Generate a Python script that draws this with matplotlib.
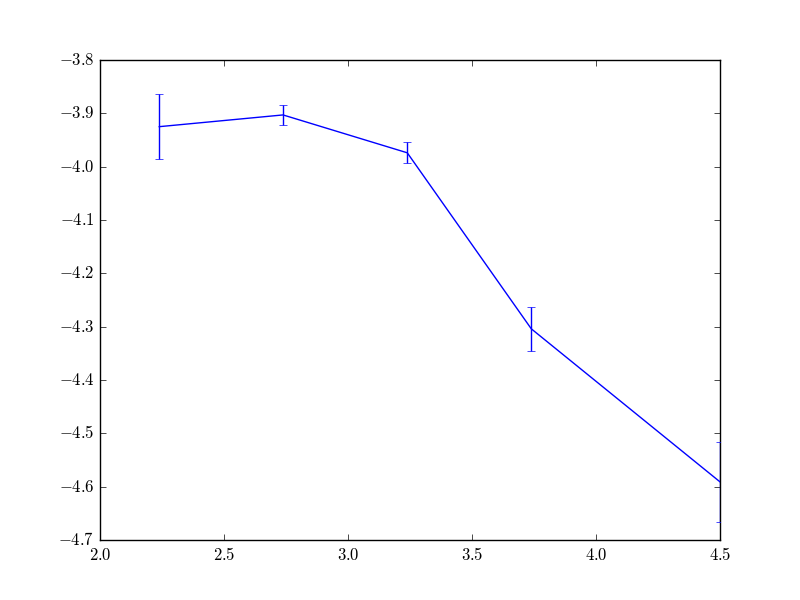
import matplotlib
matplotlib.use('Agg')
import matplotlib.pyplot as plt
from matplotlib.ticker import FuncFormatter

x = [2.239, 2.738, 3.239, 3.739, 4.5]
y = [-3.925, -3.903, -3.974, -4.304, -4.591]
yerr = [0.061, 0.0185, 0.0197, 0.041, 0.075]

plt.style.use('classic')
plt.rcParams['mathtext.fontset'] = 'cm'

fig = plt.figure(figsize=(8, 6), dpi=100)
ax = fig.add_subplot(111)
fig.subplots_adjust(left=0.125, right=0.9, bottom=0.1, top=0.9)

# draw above the frame so the clipped bar at x=4.5 shows on the spine
ax.errorbar(x, y, yerr=yerr, color='b', ecolor='b', capsize=3, zorder=3)

ax.set_xlim(2.0, 4.5)
ax.set_ylim(-4.7, -3.8)
ax.set_xticks([2.0, 2.5, 3.0, 3.5, 4.0, 4.5])
ax.set_yticks([-4.7, -4.6, -4.5, -4.4, -4.3, -4.2, -4.1, -4.0, -3.9, -3.8])

fmt = FuncFormatter(lambda v, p: r'$%.1f$' % v)
ax.xaxis.set_major_formatter(fmt)
ax.yaxis.set_major_formatter(fmt)

fig.savefig('out.png', dpi=100)
